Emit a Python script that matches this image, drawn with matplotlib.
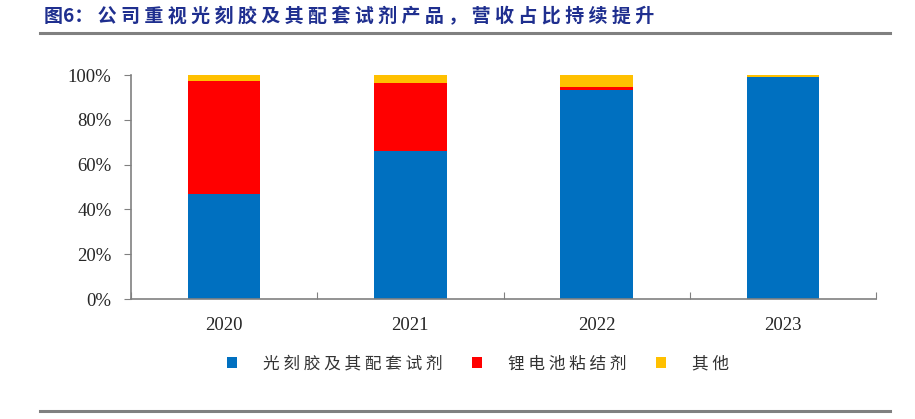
import matplotlib
matplotlib.use("Agg")
import matplotlib.pyplot as plt
from matplotlib.lines import Line2D
from matplotlib.patches import Patch
import numpy as np

years = ["2020", "2021", "2022", "2023"]
photoresist = [47.0, 66.2, 93.3, 99.1]
binder = [50.4, 30.3, 1.4, 0.0]
other = [2.6, 3.5, 5.3, 0.9]
series_names = ["光刻胶及其配套试剂", "锂电池粘结剂", "其他"]
colors = ["#0070C0", "#FF0000", "#FFC000"]
yticks = [0, 20, 40, 60, 80, 100]
title = "图6：公司重视光刻胶及其配套试剂产品，营收占比持续提升"

cjk = ["Noto Sans CJK SC", "DejaVu Sans"]
serif = ["Liberation Serif", "DejaVu Serif"]

def spaced(s):
    return " ".join(list(s))

fig = plt.figure(figsize=(9.15, 4.19), dpi=100)
ax = fig.add_axes([131/915, 1-299/419, (876-131)/915, (299-75)/419])

x = np.arange(len(years))
w = 0.39
p = np.array(photoresist); b = np.array(binder); o = np.array(other)
ax.bar(x, p, w, color=colors[0], label=series_names[0])
ax.bar(x, b, w, bottom=p, color=colors[1], label=series_names[1])
ax.bar(x, o, w, bottom=p+b, color=colors[2], label=series_names[2])

ax.set_xlim(-0.5, len(years)-0.5)
ax.set_ylim(0, 100)
ax.set_yticks(yticks)
ax.set_yticklabels([f"{v}%" for v in yticks], fontfamily=serif, fontsize=13.5, color="#262626")
ax.set_xticks(np.arange(len(years)+1)-0.5)
ax.set_xticklabels([])
ax.tick_params(axis="x", which="major", direction="in", length=5, color="#808080")
ax.set_xticks(x, minor=True)
ax.set_xticklabels(years, minor=True, fontfamily=serif, fontsize=13.5, color="#262626")
ax.tick_params(axis="x", which="minor", length=0, pad=13)
ax.tick_params(axis="y", direction="out", length=5, color="#808080", pad=9)
for s in ["top", "right"]:
    ax.spines[s].set_visible(False)
for s in ["left", "bottom"]:
    ax.spines[s].set_color("#808080")
    ax.spines[s].set_linewidth(1.2)

fig.text(44/915, 1-17/419, title[:2] + spaced(title[2:]), fontfamily=cjk, fontweight="bold",
         fontsize=13.7, color="#1F2F8F", va="center", ha="left")
fig.add_artist(Line2D([40/915, 890/915], [1-33/419]*2, color="#808080", lw=2.2))
fig.add_artist(Line2D([40/915, 890/915], [1-411/419]*2, color="#808080", lw=2.2))

handles = [Patch(facecolor=c, edgecolor="none") for c in colors]
leg = fig.legend(handles, [spaced(n) for n in series_names], loc="center",
                 bbox_to_anchor=(478/915, 1-364/419),
                 ncol=3, frameon=False, prop={"family": cjk, "size": 12},
                 handlelength=0.6, handleheight=0.6, handletextpad=1.55, columnspacing=1.8)
for t in leg.get_texts():
    t.set_color("#333333")

fig.savefig("out.png", dpi=100)
